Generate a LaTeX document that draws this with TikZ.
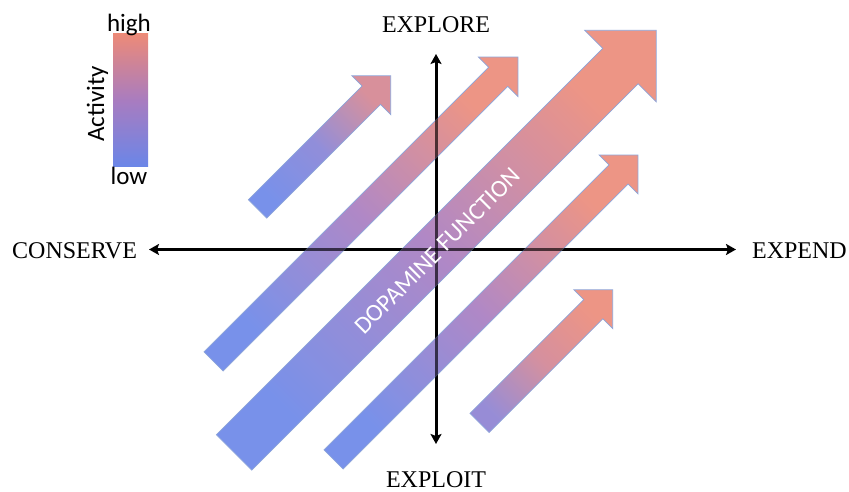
\documentclass[tikz,border=0pt]{standalone}
\usepackage{fontspec}
\setmainfont{Liberation Serif}
\newfontfamily\carlito{Carlito}
\usetikzlibrary{arrows.meta}
\definecolor{actblue}{HTML}{6A86E8}
\definecolor{actpurple}{HTML}{A87CC0}
\definecolor{actsalmon}{HTML}{EC8A78}
\definecolor{actedge}{HTML}{8DA5DA}
\newcommand\apt[2]{({\arrCX+0.70711*((#1)-(#2))},{\arrCY+0.70711*((#1)+(#2))})}
% #1 cx, #2 cy, #3 shaft width, #4 head width, #5 length, #6 style
\newcommand\flowarrow[6]{%
  \def\arrCX{#1}\def\arrCY{#2}%
  \path[#6] \apt{0}{-#3/2} -- \apt{#5-#4/2}{-#3/2} -- \apt{#5-#4/2}{-#4/2}
    -- \apt{#5}{0} -- \apt{#5-#4/2}{#4/2} -- \apt{#5-#4/2}{#3/2}
    -- \apt{0}{#3/2} -- cycle;}
\tikzset{
  barrow/.style={draw=actedge, line width=0.7pt, fill opacity=0.9},
  axisline/.style={line width=3pt, {Stealth[length=10pt,width=11pt,inset=2pt]}-{Stealth[length=10pt,width=11pt,inset=2pt]}},
  axisghost/.style={line width=3pt, draw opacity=0.6, shorten <=9pt, shorten >=9pt},
  axislabel/.style={inner sep=0pt, font=\fontsize{24}{28}\selectfont},
  legendtext/.style={inner sep=0pt, font=\carlito\fontsize{25}{29}\selectfont},
  dopatext/.style={inner sep=0pt, font=\carlito\fontsize{24.5}{29}\selectfont, text=white}
}
\begin{document}
\begin{tikzpicture}[x=1pt,y=1pt]
\fill[white] (0,0) rectangle (849,492);
\useasboundingbox (0,0) rectangle (849,492);
% axes
\coordinate (W) at (149,242.5);
\coordinate (E) at (736,242.5);
\coordinate (S) at (436,48);
\coordinate (N) at (436,438);
\draw[axisline] (W) -- (E);
\draw[axisline] (S) -- (N);
% arrows
\flowarrow{257.5}{283}{26}{55}{188.4}{barrow, top color=actsalmon!65!actpurple, bottom color=actblue, middle color=actblue!55!actpurple, shading angle=-45}
\flowarrow{213.5}{130.5}{27}{56}{430.6}{barrow, top color=actsalmon, bottom color=actblue, middle color=actpurple, shading angle=-45}
\flowarrow{234}{39.5}{50}{101}{597}{barrow, top color=actsalmon, bottom color=actblue, middle color=actpurple, shading angle=-45}
\flowarrow{333.5}{32.5}{27}{55}{430.6}{barrow, top color=actsalmon, bottom color=actblue, middle color=actpurple, shading angle=-45}
\flowarrow{479.5}{69}{27}{55}{188.4}{barrow, top color=actsalmon, bottom color=actblue!45!actpurple, middle color=actsalmon!60!actpurple, shading angle=-45}
% axes seen through the arrows
\draw[axisghost] (W) -- (E);
\draw[axisghost] (S) -- (N);
\node[dopatext, rotate=45] (dop) at (437.5,241) {DOPAMINE FUNCTION};
% axis labels
\node[axislabel, anchor=west] (cons) at (12,241.5) {CONSERVE};
\node[axislabel, anchor=east] (exp) at (847,241.5) {EXPEND};
\node[axislabel] (explore) at (436,467) {EXPLORE};
\node[axislabel] (exploit) at (436,12) {EXPLOIT};
% legend
\shade[top color=actsalmon, bottom color=actblue, middle color=actpurple] (113,325) rectangle (148,458);
\node[legendtext, anchor=base] (high) at (129,460) {high};
\node[legendtext, anchor=base] (low) at (129,307) {low};
\node[legendtext, anchor=base, rotate=90] (act) at (104,388) {Activity};
\end{tikzpicture}
\end{document}
